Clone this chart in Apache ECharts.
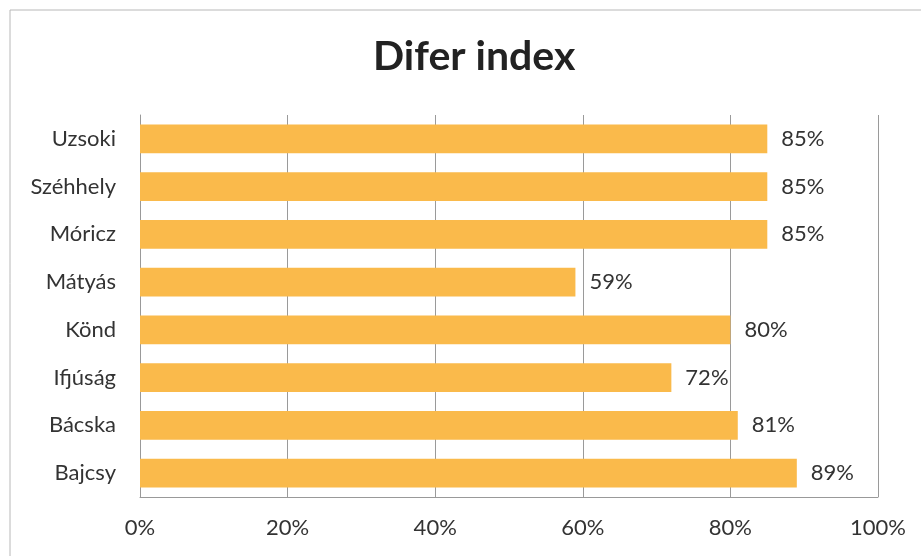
<!DOCTYPE html>
<html><head><meta charset="utf-8">
<script src="https://cdn.jsdelivr.net/npm/echarts@6/dist/echarts.min.js"></script>
<style>html,body{margin:0;padding:0;background:#fff}#c{width:921px;height:556px}</style>
</head><body><div id="c"></div>
<script>
const categories = ["Uzsoki","Széhhely","Móricz","Mátyás","Könd","Ifjúság","Bácska","Bajcsy"];
const values = [85,85,85,59,80,72,81,89];
const tickLabels = ["0%","20%","40%","60%","80%","100%"];
const chart = echarts.init(document.getElementById('c'));
const font = 'Lato, "Open Sans", sans-serif';
chart.setOption({
  backgroundColor:'#fff',
  animation:false,
  graphic:[{type:'rect',shape:{x:10,y:10,width:920,height:560},style:{fill:'none',stroke:'#b8b8b8',lineWidth:1}}],
  title:{text:'Difer index',left:368,top:31,textStyle:{fontFamily:font,fontWeight:'bold',fontSize:41,color:'#222'}},
  grid:{left:140,right:43,top:115,bottom:59},
  xAxis:{type:'value',min:0,max:100,interval:20,
    axisLine:{show:true,lineStyle:{color:'#999'}},axisTick:{show:false},
    splitLine:{show:true,lineStyle:{color:'#9a9a9a'}},
    axisLabel:{margin:20,fontFamily:font,fontSize:22,color:'#333',formatter:(v)=>tickLabels[Math.round(v/20)]}},
  yAxis:{type:'category',data:categories,inverse:true,
    axisLine:{show:true,lineStyle:{color:'#999'}},axisTick:{show:false},
    axisLabel:{margin:24,fontFamily:font,fontSize:22,color:'#333'}},
  series:[{type:'bar',data:values,barCategoryGap:'40%',
    itemStyle:{color:'#FABA4B'},
    label:{show:true,position:'right',distance:14,formatter:'{c}%',fontFamily:font,fontSize:22,color:'#333'}}]
});
</script></body></html>
